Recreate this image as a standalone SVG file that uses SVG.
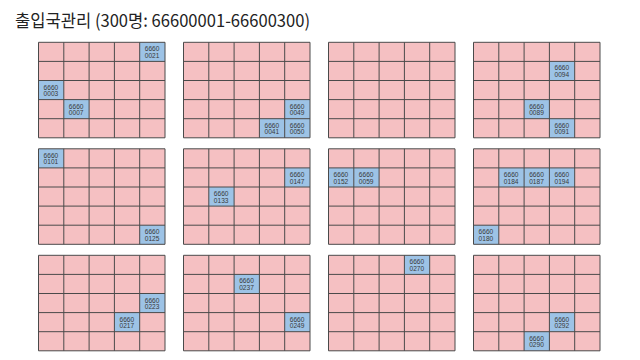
<svg xmlns="http://www.w3.org/2000/svg" width="640" height="360" viewBox="0 0 640 360">
<style>
.bg{fill:#f5c0c2}
.grid{fill:none;stroke:#4a4a4a;stroke-width:1}
.cell rect{fill:#9dc3e6}
.cell text{font-family:"Liberation Sans",Arial,sans-serif;font-size:6.6px;fill:#3a3a3a;text-anchor:middle}
.title{font-family:"Noto Sans CJK KR","Noto Sans",sans-serif;font-size:17.5px;fill:#222}
</style>
<defs>
<path id="g" class="grid" d="M0,0H126.5V95.5H0Z M25.3,0V95.5 M50.6,0V95.5 M75.9,0V95.5 M101.2,0V95.5 M0,19.1H126.5 M0,38.2H126.5 M0,57.3H126.5 M0,76.4H126.5"/>
</defs>
<text class="title" x="15" y="27" textLength="295" lengthAdjust="spacingAndGlyphs">출입국관리 (300명: 66600001-66600300)</text>

<g id="panel1" transform="translate(38.5,42.3)">
<rect class="bg" width="126.5" height="95.5"/>
<g class="cell" transform="translate(101.2,0)"><rect width="25.3" height="19.1"/><text x="12.4" y="9">6660</text><text x="12.4" y="15.7">0021</text></g>
<g class="cell" transform="translate(0,38.2)"><rect width="25.3" height="19.1"/><text x="12.4" y="9">6660</text><text x="12.4" y="15.7">0003</text></g>
<g class="cell" transform="translate(25.3,57.3)"><rect width="25.3" height="19.1"/><text x="12.4" y="9">6660</text><text x="12.4" y="15.7">0007</text></g>
<use href="#g"/>
</g>

<g id="panel2" transform="translate(183.5,42.3)">
<rect class="bg" width="126.5" height="95.5"/>
<g class="cell" transform="translate(101.2,57.3)"><rect width="25.3" height="19.1"/><text x="12.4" y="9">6660</text><text x="12.4" y="15.7">0049</text></g>
<g class="cell" transform="translate(75.9,76.4)"><rect width="25.3" height="19.1"/><text x="12.4" y="9">6660</text><text x="12.4" y="15.7">0041</text></g>
<g class="cell" transform="translate(101.2,76.4)"><rect width="25.3" height="19.1"/><text x="12.4" y="9">6660</text><text x="12.4" y="15.7">0050</text></g>
<use href="#g"/>
</g>

<g id="panel3" transform="translate(328.5,42.3)">
<rect class="bg" width="126.5" height="95.5"/>
<use href="#g"/>
</g>

<g id="panel4" transform="translate(473.5,42.3)">
<rect class="bg" width="126.5" height="95.5"/>
<g class="cell" transform="translate(75.9,19.1)"><rect width="25.3" height="19.1"/><text x="12.4" y="9">6660</text><text x="12.4" y="15.7">0094</text></g>
<g class="cell" transform="translate(50.6,57.3)"><rect width="25.3" height="19.1"/><text x="12.4" y="9">6660</text><text x="12.4" y="15.7">0089</text></g>
<g class="cell" transform="translate(75.9,76.4)"><rect width="25.3" height="19.1"/><text x="12.4" y="9">6660</text><text x="12.4" y="15.7">0091</text></g>
<use href="#g"/>
</g>

<g id="panel5" transform="translate(38.5,148.8)">
<rect class="bg" width="126.5" height="95.5"/>
<g class="cell" transform="translate(0,0)"><rect width="25.3" height="19.1"/><text x="12.4" y="9">6660</text><text x="12.4" y="15.7">0101</text></g>
<g class="cell" transform="translate(101.2,76.4)"><rect width="25.3" height="19.1"/><text x="12.4" y="9">6660</text><text x="12.4" y="15.7">0125</text></g>
<use href="#g"/>
</g>

<g id="panel6" transform="translate(183.5,148.8)">
<rect class="bg" width="126.5" height="95.5"/>
<g class="cell" transform="translate(101.2,19.1)"><rect width="25.3" height="19.1"/><text x="12.4" y="9">6660</text><text x="12.4" y="15.7">0147</text></g>
<g class="cell" transform="translate(25.3,38.2)"><rect width="25.3" height="19.1"/><text x="12.4" y="9">6660</text><text x="12.4" y="15.7">0133</text></g>
<use href="#g"/>
</g>

<g id="panel7" transform="translate(328.5,148.8)">
<rect class="bg" width="126.5" height="95.5"/>
<g class="cell" transform="translate(0,19.1)"><rect width="25.3" height="19.1"/><text x="12.4" y="9">6660</text><text x="12.4" y="15.7">0152</text></g>
<g class="cell" transform="translate(25.3,19.1)"><rect width="25.3" height="19.1"/><text x="12.4" y="9">6660</text><text x="12.4" y="15.7">0059</text></g>
<use href="#g"/>
</g>

<g id="panel8" transform="translate(473.5,148.8)">
<rect class="bg" width="126.5" height="95.5"/>
<g class="cell" transform="translate(25.3,19.1)"><rect width="25.3" height="19.1"/><text x="12.4" y="9">6660</text><text x="12.4" y="15.7">0184</text></g>
<g class="cell" transform="translate(50.6,19.1)"><rect width="25.3" height="19.1"/><text x="12.4" y="9">6660</text><text x="12.4" y="15.7">0187</text></g>
<g class="cell" transform="translate(75.9,19.1)"><rect width="25.3" height="19.1"/><text x="12.4" y="9">6660</text><text x="12.4" y="15.7">0194</text></g>
<g class="cell" transform="translate(0,76.4)"><rect width="25.3" height="19.1"/><text x="12.4" y="9">6660</text><text x="12.4" y="15.7">0180</text></g>
<use href="#g"/>
</g>

<g id="panel9" transform="translate(38.5,255.3)">
<rect class="bg" width="126.5" height="95.5"/>
<g class="cell" transform="translate(101.2,38.2)"><rect width="25.3" height="19.1"/><text x="12.4" y="9">6660</text><text x="12.4" y="15.7">0223</text></g>
<g class="cell" transform="translate(75.9,57.3)"><rect width="25.3" height="19.1"/><text x="12.4" y="9">6660</text><text x="12.4" y="15.7">0217</text></g>
<use href="#g"/>
</g>

<g id="panel10" transform="translate(183.5,255.3)">
<rect class="bg" width="126.5" height="95.5"/>
<g class="cell" transform="translate(50.6,19.1)"><rect width="25.3" height="19.1"/><text x="12.4" y="9">6660</text><text x="12.4" y="15.7">0237</text></g>
<g class="cell" transform="translate(101.2,57.3)"><rect width="25.3" height="19.1"/><text x="12.4" y="9">6660</text><text x="12.4" y="15.7">0249</text></g>
<use href="#g"/>
</g>

<g id="panel11" transform="translate(328.5,255.3)">
<rect class="bg" width="126.5" height="95.5"/>
<g class="cell" transform="translate(75.9,0)"><rect width="25.3" height="19.1"/><text x="12.4" y="9">6660</text><text x="12.4" y="15.7">0270</text></g>
<use href="#g"/>
</g>

<g id="panel12" transform="translate(473.5,255.3)">
<rect class="bg" width="126.5" height="95.5"/>
<g class="cell" transform="translate(75.9,57.3)"><rect width="25.3" height="19.1"/><text x="12.4" y="9">6660</text><text x="12.4" y="15.7">0292</text></g>
<g class="cell" transform="translate(50.6,76.4)"><rect width="25.3" height="19.1"/><text x="12.4" y="9">6660</text><text x="12.4" y="15.7">0290</text></g>
<use href="#g"/>
</g>
</svg>
